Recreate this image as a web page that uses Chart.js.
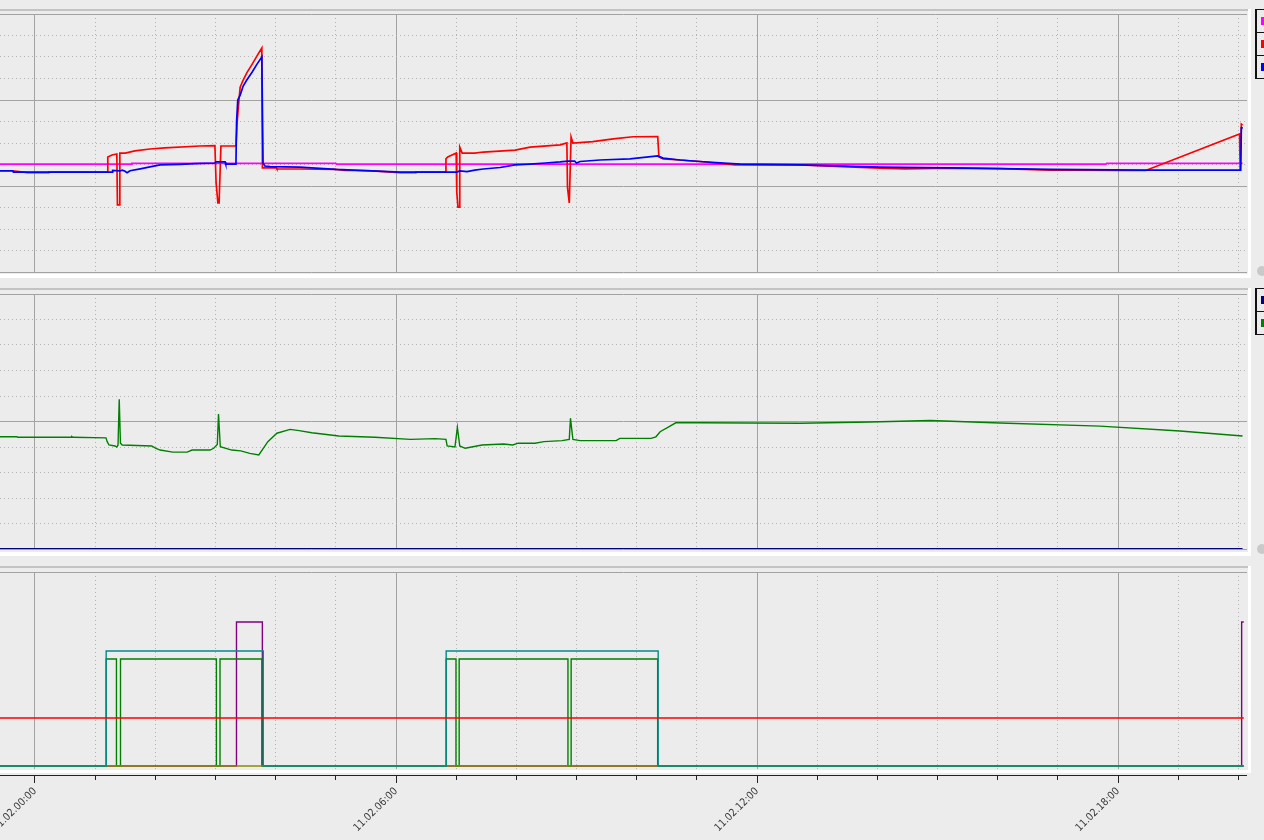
<!DOCTYPE html>
<html>
<head>
<meta charset="utf-8">
<title>Trend</title>
<script src="https://cdn.jsdelivr.net/npm/chart.js@4.4.1/dist/chart.umd.min.js"></script>
<style>
  html, body { margin: 0; padding: 0; background: #ececec; width: 1264px; height: 840px; overflow: hidden; }
  body { position: relative; }
  .topline { position: absolute; left: 0; width: 1249px; height: 2px; background: #c3c3c3; }
  .rside { position: absolute; left: 1248px; width: 3px; background: #fff; }
  .bside { position: absolute; left: 0; width: 1251px; height: 4px; background: #fff; }
  canvas { position: absolute; left: 0; }
  .legend { position: absolute; left: 1255px; width: 60px; border: 1px solid #111; border-left-width: 2px; }
  .legend .row { position: relative; height: 22px; border-top: 1px solid #111; }
  .legend .row:first-child { border-top: none; }
  .legend .sw { position: absolute; left: 4px; top: 7px; width: 8px; height: 8px; }
  .knob { position: absolute; left: 1257px; width: 10px; height: 10px; border-radius: 50%; background: #c9c9c9; }
</style>
</head>
<body>

<div class="topline" style="top:9px"></div>
<div class="rside" style="top:9px;height:269px"></div>
<div class="bside" style="top:274px"></div>

<div class="topline" style="top:288px"></div>
<div class="rside" style="top:288px;height:268px"></div>
<div class="bside" style="top:552px"></div>

<div class="topline" style="top:566px"></div>
<div class="rside" style="top:566px;height:207px"></div>
<div class="bside" style="top:770px;height:3px"></div>

<div class="knob" style="top:266px"></div>
<div class="knob" style="top:544px"></div>

<canvas id="chartTop" width="1247" height="270" style="top:8px"></canvas>
<canvas id="chartMid" width="1247" height="268" style="top:288px"></canvas>
<canvas id="chartBottom" width="1247" height="274" style="top:566px"></canvas>

<script>
/* ==========================================================
   DATA  (x = hours from 11.02 00:00)
========================================================== */

const HOUR_MIN = -0.5817;
const HOUR_MAX = 20.144;

const labelHours = [0, 6, 12, 18];
const labelTexts = ["11.02.00:00", "11.02.06:00", "11.02.12:00", "11.02.18:00"];

// top panel
const magentaSeries = [
  [-0.59, 5.02], [1.6, 5.02], [1.61, 5.05], [5.0, 5.05], [5.01, 5.02],
  [17.8, 5.02], [17.81, 5.05], [20.07, 5.05],
];

const redSeries = [
  [-0.59, 4.7], [-0.37, 4.7], [-0.12, 4.62], [0.22, 4.62], [0.23, 4.65],
  [1.2, 4.65], [1.21, 5.35], [1.28, 5.44], [1.36, 5.49], [1.37, 3.12],
  [1.4, 3.12], [1.41, 5.53], [1.5, 5.53], [1.66, 5.63], [1.91, 5.72],
  [2.16, 5.77], [2.74, 5.86], [2.99, 5.88], [3.01, 4.14], [3.04, 3.21],
  [3.06, 3.21], [3.09, 5.86], [3.34, 5.86], [3.36, 6.98], [3.39, 8.0],
  [3.41, 8.6], [3.46, 8.93], [3.52, 9.26], [3.61, 9.67], [3.69, 10.05],
  [3.77, 10.42], [3.78, 4.84], [4.01, 4.84], [4.02, 4.79], [4.4, 4.79],
  [5.0, 4.77], [5.15, 4.72], [5.32, 4.72], [5.6, 4.7], [6.07, 4.62],
  [6.32, 4.62], [6.33, 4.65], [6.82, 4.65], [6.83, 5.26], [6.86, 5.35],
  [6.93, 5.44], [7.0, 5.53], [7.01, 3.72], [7.03, 3.02], [7.05, 3.02],
  [7.06, 5.81], [7.1, 5.53], [7.31, 5.53], [7.45, 5.58], [7.98, 5.67],
  [8.23, 5.81], [8.73, 5.91], [8.84, 6.0], [8.85, 3.95], [8.88, 3.21],
  [8.91, 6.28], [8.94, 6.0], [9.27, 6.06], [9.61, 6.19], [9.94, 6.29],
  [10.35, 6.3], [10.37, 5.35], [10.44, 5.26], [10.72, 5.21], [11.05, 5.14],
  [11.63, 4.98], [11.88, 4.98], [12.71, 4.98], [14.04, 4.83], [14.46, 4.8],
  [15.21, 4.83], [16.04, 4.81], [16.87, 4.74], [17.28, 4.74], [18.08, 4.72],
  [18.46, 4.72], [20.02, 6.42], [20.03, 4.74], [20.05, 6.88], [20.07, 6.84],
];

const blueSeries = [
  [-0.59, 4.71], [-0.37, 4.71], [-0.36, 4.65], [1.2, 4.65], [1.28, 4.65],
  [1.29, 4.72], [1.41, 4.7], [1.45, 4.74], [1.49, 4.7], [1.53, 4.62],
  [1.58, 4.71], [1.75, 4.8], [1.91, 4.89], [2.08, 4.98], [2.41, 5.01],
  [2.66, 5.04], [2.99, 5.07], [3.01, 5.12], [3.16, 5.12], [3.17, 5.02],
  [3.34, 5.02], [3.35, 6.98], [3.37, 8.0], [3.41, 8.23], [3.46, 8.65],
  [3.52, 8.93], [3.61, 9.3], [3.69, 9.67], [3.77, 10.0], [3.79, 5.07],
  [3.82, 4.93], [3.91, 4.9], [4.4, 4.88], [5.0, 4.77], [5.6, 4.7],
  [6.07, 4.65], [7.01, 4.65], [7.06, 4.7], [7.18, 4.67], [7.31, 4.74],
  [7.45, 4.79], [7.73, 4.86], [7.98, 4.98], [8.23, 5.02], [8.48, 5.07],
  [8.73, 5.12], [8.86, 5.16], [8.97, 5.16], [9.0, 5.07], [9.06, 5.14],
  [9.39, 5.21], [9.89, 5.26], [10.35, 5.4], [10.44, 5.3], [10.72, 5.21],
  [11.05, 5.14], [11.72, 5.02], [12.71, 4.98], [14.04, 4.88], [15.21, 4.84],
  [16.04, 4.81], [16.87, 4.77], [18.45, 4.74], [20.04, 4.74], [20.05, 6.7],
  [20.06, 6.74],
];

// middle panel
const navySeries = [[-0.59, 0], [20.07, 0]];

const greenSeries = [
  [-0.59, 4.4], [-0.3, 4.4], [-0.29, 4.38], [0.6, 4.38], [0.61, 4.41],
  [0.63, 4.38], [1.18, 4.36], [1.2, 4.21], [1.23, 4.08], [1.33, 4.04],
  [1.36, 4.0], [1.38, 4.08], [1.4, 5.87], [1.42, 4.15], [1.45, 4.08],
  [1.94, 4.04], [2.01, 3.95], [2.08, 3.88], [2.29, 3.8], [2.53, 3.8],
  [2.61, 3.88], [2.91, 3.88], [2.97, 3.95], [3.03, 4.1], [3.05, 5.29],
  [3.08, 4.01], [3.27, 3.88], [3.42, 3.85], [3.57, 3.75], [3.72, 3.69],
  [3.87, 4.21], [4.02, 4.54], [4.24, 4.69], [4.39, 4.64], [4.6, 4.56],
  [5.05, 4.43], [5.65, 4.38], [6.24, 4.3], [6.65, 4.33], [6.83, 4.3],
  [6.85, 4.04], [6.98, 4.0], [7.02, 4.77], [7.06, 4.04], [7.15, 3.95],
  [7.43, 4.08], [7.79, 4.12], [7.94, 4.08], [8.03, 4.15], [8.31, 4.15],
  [8.46, 4.21], [8.76, 4.25], [8.88, 4.3], [8.9, 5.13], [8.94, 4.3],
  [9.06, 4.25], [9.66, 4.25], [9.72, 4.34], [10.24, 4.34], [10.32, 4.4],
  [10.39, 4.6], [10.54, 4.8], [10.65, 4.95], [11.05, 4.95], [12.71, 4.93],
  [13.88, 4.98], [14.88, 5.04], [16.04, 4.94], [17.7, 4.82], [19.03, 4.63],
  [20.07, 4.43],
];

// bottom panel (state signals, value holds until next point)
const tealSeries = [[-0.59, 0], [1.183, 4.79], [3.794, 0], [6.834, 4.79], [10.357, 0], [20.09, 0]];
const stepGreenSeries = [
  [-0.59, 0], [1.183, 4.46], [1.354, 0], [1.421, 4.46], [3.015, 0],
  [3.075, 4.46], [3.771, 0], [6.834, 4.46], [6.997, 0], [7.05, 4.46],
  [8.858, 0], [8.911, 4.46], [10.349, 0], [20.09, 0],
];
const purpleSeries = [[-0.59, 0], [3.349, 6.0], [3.779, 0], [20.055, 6.0], [20.09, 6.0]];
const limitSeries = [[-0.59, 2.0], [20.09, 2.0]];
const oliveSeries = [[-0.59, 0], [20.09, 0]];

/* ==========================================================
   HELPERS
========================================================== */

function points(series) {
  return series.map((p) => ({ x: p[0], y: p[1] }));
}

function isMajorHour(c) {
  return c.tick && Math.round(c.tick.value) % 6 === 0;
}

function hourTicks(scale) {
  const ticks = [];
  for (let h = Math.ceil(scale.min); h <= Math.floor(scale.max); h++) {
    ticks.push({ value: h });
  }
  scale.ticks = ticks;
}

function gridX(extra) {
  return Object.assign(
    {
      type: "linear",
      min: HOUR_MIN,
      max: HOUR_MAX,
      afterBuildTicks: hourTicks,
      afterFit: (s) => {
        s.height = 0;
      },
      ticks: { display: false },
      // v4: grid line dash lives in border.dash
      border: {
        display: false,
        dash: (c) => (isMajorHour(c) ? [] : [1, 3]),
      },
      grid: {
        drawTicks: false,
        lineWidth: 1,
        color: (c) => (isMajorHour(c) ? "#a2a2a2" : "#b4b4b4"),
      },
    },
    extra || {},
  );
}

function gridY(min, max, step, majorEvery) {
  const isMajor = (c) => c.tick && Math.round(c.tick.value) % majorEvery === 0;

  return {
    min: min,
    max: max,
    afterBuildTicks: (s) => {
      const ticks = [];
      for (let v = min; v <= max + 1e-9; v += step) ticks.push({ value: v });
      s.ticks = ticks;
    },
    afterFit: (s) => {
      s.width = 0;
    },
    ticks: { display: false },
    border: {
      display: false,
      dash: (c) => (isMajor(c) ? [] : [1, 3]),
    },
    grid: {
      drawTicks: false,
      lineWidth: 1,
      color: (c) => (isMajor(c) ? "#a2a2a2" : "#b4b4b4"),
    },
  };
}

function lineSet(label, series, color, width, order, stepped) {
  return {
    label: label,
    data: points(series),
    borderColor: color,
    backgroundColor: color,
    borderWidth: width,
    pointRadius: 0,
    fill: false,
    tension: 0,
    stepped: stepped || false,
    order: order,
  };
}

function baseOptions(padding, scales) {
  return {
    responsive: false,
    animation: false,
    events: [],
    layout: { autoPadding: false, padding: padding },
    plugins: { legend: { display: false }, tooltip: { enabled: false } },
    scales: scales,
  };
}

function buildLegend(chart, top) {
  const box = document.createElement("div");
  box.className = "legend";
  box.style.top = top + "px";

  chart.data.datasets.forEach((ds) => {
    const row = document.createElement("div");
    row.className = "row";

    const sw = document.createElement("div");
    sw.className = "sw";
    sw.style.background = ds.borderColor;

    row.appendChild(sw);
    box.appendChild(row);
  });

  document.body.appendChild(box);
}

/* ==========================================================
   TOP PANEL
========================================================== */

const chartTop = new Chart(document.getElementById("chartTop"), {
  type: "line",
  data: {
    datasets: [
      lineSet("Setpoint", magentaSeries, "#ff00ff", 1.7, 3),
      lineSet("Value A", redSeries, "#ff0000", 1.7, 2),
      lineSet("Value B", blueSeries, "#0000ff", 1.7, 1),
    ],
  },
  options: baseOptions({ top: 6, bottom: 6, left: 0, right: 0 }, {
    x: gridX(),
    y: gridY(0, 12, 1, 4),
  }),
});

buildLegend(chartTop, 9);

/* ==========================================================
   MIDDLE PANEL
========================================================== */

const chartMid = new Chart(document.getElementById("chartMid"), {
  type: "line",
  data: {
    datasets: [
      lineSet("Signal C", navySeries, "#000080", 2, 2),
      lineSet("Signal D", greenSeries, "#008000", 1.4, 1),
    ],
  },
  options: baseOptions({ top: 6, bottom: 7, left: 0, right: 0 }, {
    x: gridX(),
    y: gridY(0, 10, 1, 5),
  }),
});

buildLegend(chartMid, 288);

/* ==========================================================
   BOTTOM PANEL
========================================================== */

const bottomY = gridY(-0.125, 8.0833, 1, 1);
bottomY.afterBuildTicks = (sc) => {
  sc.ticks = [{ value: 8.0833 }];
};
bottomY.grid.color = "#a2a2a2";
bottomY.border.dash = [];

new Chart(document.getElementById("chartBottom"), {
  type: "line",
  data: {
    datasets: [
      lineSet("Limit", limitSeries, "#ff0000", 1.4, 0),
      lineSet("State 1", tealSeries, "#008b8b", 1.4, 1, "before"),
      lineSet("State 2", oliveSeries, "#8c8c00", 1.4, 2, "before"),
      lineSet("State 3", stepGreenSeries, "#008000", 1.4, 3, "before"),
      lineSet("State 4", purpleSeries, "#800080", 1.4, 4, "before"),
    ],
  },
  options: baseOptions({ top: 6, bottom: 0, left: 0, right: 0 }, {
    x: gridX({
      weight: 0,
      afterFit: (s) => {
        s.height = 6;
      },
    }),
    x2: {
      type: "linear",
      axis: "x",
      position: "bottom",
      weight: 1,
      min: HOUR_MIN,
      max: HOUR_MAX,
      afterBuildTicks: hourTicks,
      afterFit: (s) => {
        s.height = 65;
        s.paddingLeft = 0;
        s.paddingRight = 0;
        s.paddingTop = 0;
        s.paddingBottom = 0;
      },
      border: { display: true, color: "#222", width: 1 },
      grid: {
        drawOnChartArea: false,
        drawTicks: true,
        tickLength: 8,
        tickColor: "#222",
        tickWidth: 1,
        tickBorderDash: (c) => (isMajorHour(c) ? [] : [4, 20]),
      },
      ticks: {
        autoSkip: false,
        minRotation: 45,
        maxRotation: 45,
        padding: 2,
        color: "#3a3a3a",
        font: { family: "'DejaVu Sans Condensed', 'DejaVu Sans'", size: 10.5 },
        callback: (value) => {
          const i = labelHours.indexOf(Math.round(value));
          return i >= 0 && Math.abs(value - labelHours[i]) < 1e-6 ? labelTexts[i] : "";
        },
      },
    },
    y: bottomY,
  }),
});

console.log("Charts ready");
</script>
</body>
</html>
